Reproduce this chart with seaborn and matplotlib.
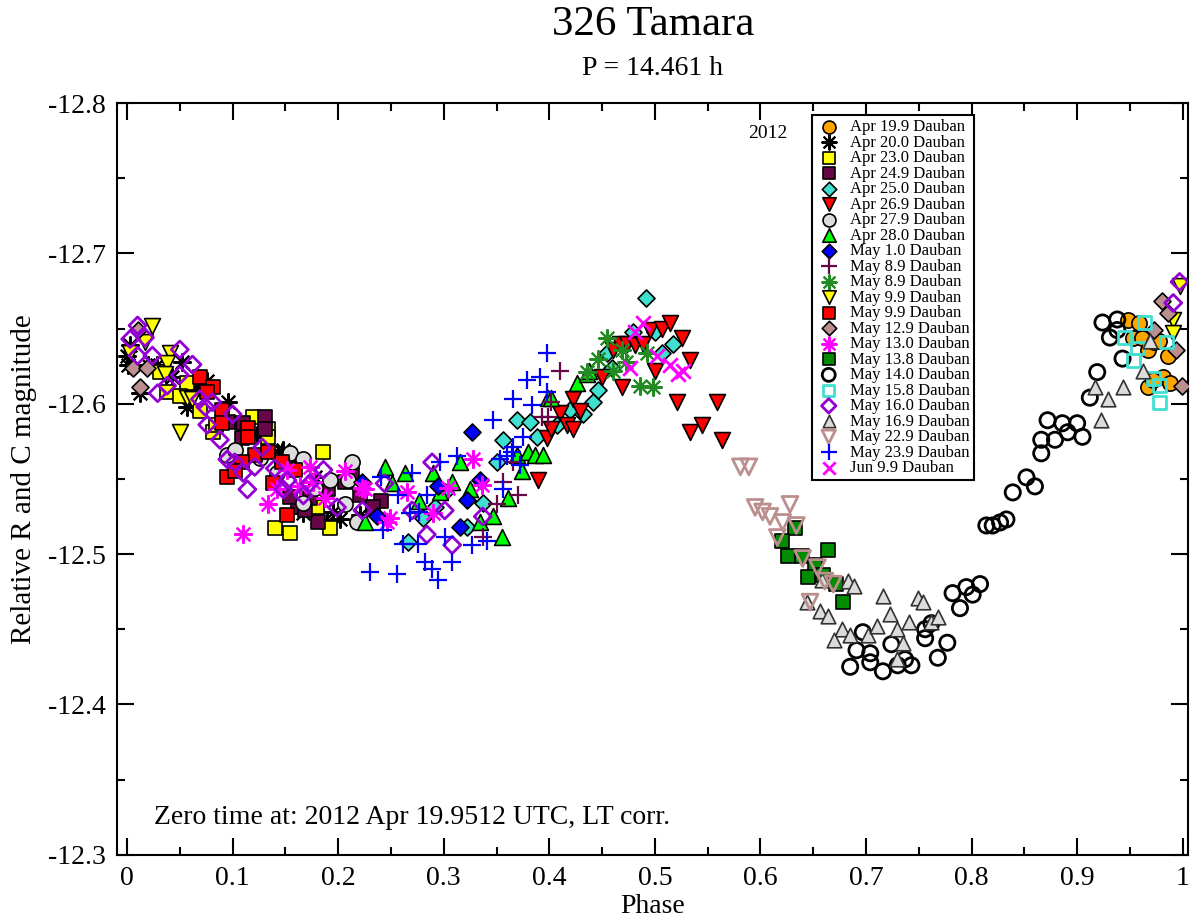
import matplotlib
matplotlib.use('Agg')
import matplotlib.pyplot as plt
from matplotlib.ticker import MultipleLocator, FuncFormatter
import seaborn as sns

# --- data (phase, relative magnitude) ---
apr199_phase = [0.948, 0.953, 0.961, 0.967, 0.973, 0.986, 0.981, 0.988, 0.967, 0.972, 0.959, 0.978]
apr199_mag = [-12.656, -12.644, -12.644, -12.636, -12.641, -12.632, -12.618, -12.614, -12.611, -12.616, -12.654, -12.642]

apr200_phase = [0.000, 0.001, 0.012, 0.028, 0.057, 0.052, 0.076, 0.096, 0.123, 0.148, 0.167, 0.189,
                0.003, 0.020, 0.043, 0.067, 0.156, 0.178, 0.202, 0.221, 0.195, 0.163, 0.147]
apr200_mag = [-12.632, -12.626, -12.607, -12.626, -12.598, -12.628, -12.615, -12.601, -12.579, -12.569, -12.527, -12.521,
              -12.639, -12.626, -12.618, -12.611, -12.561, -12.551, -12.523, -12.526, -12.528, -12.531, -12.568]

apr230_phase = [0.057, 0.069, 0.119, 0.134, 0.134, 0.081, 0.186, 0.140, 0.154, 0.192, 0.180, 0.038, 0.050, 0.031, 0.084]
apr230_mag = [-12.614, -12.595, -12.591, -12.583, -12.578, -12.581, -12.568, -12.517, -12.514, -12.517, -12.531, -12.608, -12.605, -12.621, -12.586]

apr249_phase = [0.131, 0.131, 0.110, 0.096, 0.109, 0.162, 0.181, 0.154, 0.173, 0.213, 0.221, 0.241, 0.169, 0.233, 0.190, 0.206]
apr249_mag = [-12.591, -12.583, -12.587, -12.588, -12.577, -12.531, -12.521, -12.538, -12.537, -12.553, -12.539, -12.535, -12.529, -12.531, -12.543, -12.548]

apr250_phase = [0.266, 0.280, 0.292, 0.301, 0.322, 0.337, 0.350, 0.356, 0.369, 0.382, 0.388, 0.407,
                0.420, 0.432, 0.441, 0.446, 0.455, 0.459, 0.479, 0.492, 0.500, 0.507, 0.517]
apr250_mag = [-12.508, -12.524, -12.531, -12.541, -12.518, -12.534, -12.561, -12.576, -12.589, -12.588, -12.578, -12.586,
              -12.596, -12.593, -12.601, -12.609, -12.634, -12.624, -12.648, -12.670, -12.648, -12.634, -12.640]

apr269_phase = [0.389, 0.398, 0.402, 0.410, 0.417, 0.422, 0.422, 0.429, 0.450, 0.469, 0.460, 0.467, 0.474,
                0.481, 0.489, 0.495, 0.507, 0.514, 0.526, 0.533, 0.500, 0.521, 0.533, 0.545, 0.559, 0.564]
apr269_mag = [-12.549, -12.577, -12.583, -12.594, -12.586, -12.583, -12.603, -12.595, -12.618, -12.611, -12.636, -12.640, -12.640,
              -12.639, -12.640, -12.649, -12.650, -12.654, -12.644, -12.629, -12.622, -12.601, -12.581, -12.586, -12.601, -12.576]

apr279_phase = [0.095, 0.102, 0.154, 0.167, 0.192, 0.142, 0.167, 0.213, 0.209, 0.206, 0.218, 0.147, 0.126, 0.178]
apr279_mag = [-12.566, -12.569, -12.567, -12.563, -12.549, -12.554, -12.534, -12.561, -12.549, -12.533, -12.521, -12.561, -12.564, -12.544]

apr280_phase = [0.225, 0.244, 0.263, 0.277, 0.290, 0.296, 0.315, 0.334, 0.347, 0.355, 0.361, 0.369, 0.380,
                0.386, 0.394, 0.374, 0.399, 0.402, 0.426, 0.436, 0.438, 0.251, 0.308, 0.325]
apr280_mag = [-12.521, -12.558, -12.554, -12.535, -12.554, -12.541, -12.561, -12.521, -12.525, -12.511, -12.537, -12.566, -12.568,
              -12.566, -12.566, -12.555, -12.604, -12.604, -12.614, -12.620, -12.622, -12.547, -12.548, -12.543]

may010_phase = [0.327, 0.315, 0.237, 0.223, 0.295, 0.322, 0.334]
may010_mag = [-12.581, -12.518, -12.525, -12.548, -12.545, -12.536, -12.549]

may089a_phase = [0.410, 0.393, 0.399, 0.402, 0.366, 0.356, 0.370, 0.350, 0.337]
may089a_mag = [-12.622, -12.591, -12.591, -12.601, -12.561, -12.548, -12.539, -12.533, -12.511]

may089b_phase = [0.455, 0.446, 0.436, 0.460, 0.469, 0.473, 0.493, 0.486, 0.498]
may089b_mag = [-12.644, -12.630, -12.621, -12.622, -12.636, -12.628, -12.634, -12.612, -12.611]

may099a_phase = [0.024, 0.003, 0.017, 0.041, 0.038, 0.036, 0.057, 0.050, 0.062, 0.991, 0.991, 0.997]
may099a_mag = [-12.652, -12.634, -12.641, -12.634, -12.627, -12.620, -12.604, -12.581, -12.603, -12.656, -12.647, -12.678]

may099b_phase = [0.069, 0.081, 0.076, 0.090, 0.090, 0.115, 0.115, 0.121, 0.134, 0.109, 0.095, 0.102, 0.147, 0.159, 0.138, 0.152]
may099b_mag = [-12.618, -12.611, -12.608, -12.596, -12.587, -12.584, -12.578, -12.566, -12.568, -12.561, -12.551, -12.555, -12.561, -12.556, -12.547, -12.526]

may129_phase = [0.006, 0.019, 0.012, 0.010, 0.980, 0.986, 0.973, 0.994, 0.999]
may129_mag = [-12.624, -12.624, -12.611, -12.649, -12.668, -12.660, -12.649, -12.636, -12.612]

may130_phase = [0.173, 0.206, 0.134, 0.142, 0.164, 0.188, 0.223, 0.246, 0.176, 0.225, 0.249, 0.265,
                0.290, 0.304, 0.328, 0.336, 0.110, 0.152]
may130_mag = [-12.558, -12.555, -12.533, -12.543, -12.545, -12.537, -12.544, -12.521, -12.548, -12.543, -12.524, -12.541,
              -12.527, -12.544, -12.563, -12.546, -12.513, -12.556]

may138_phase = [0.633, 0.620, 0.626, 0.639, 0.664, 0.652, 0.645, 0.659, 0.672, 0.678]
may138_mag = [-12.517, -12.509, -12.499, -12.499, -12.503, -12.493, -12.485, -12.486, -12.480, -12.468]

may140_phase = [0.685, 0.697, 0.691, 0.704, 0.704, 0.716, 0.724, 0.730, 0.737, 0.743, 0.756, 0.756, 0.762, 0.777,
                0.768, 0.782, 0.795, 0.808, 0.801, 0.789, 0.814, 0.820, 0.827, 0.833, 0.839, 0.852, 0.860, 0.866,
                0.866, 0.872, 0.879, 0.886, 0.891, 0.900, 0.905, 0.912, 0.919, 0.924, 0.938, 0.938, 0.931, 0.943]
may140_mag = [-12.425, -12.448, -12.436, -12.434, -12.428, -12.422, -12.440, -12.426, -12.430, -12.426, -12.450, -12.444, -12.454, -12.441,
              -12.431, -12.474, -12.478, -12.480, -12.473, -12.464, -12.519, -12.519, -12.521, -12.523, -12.541, -12.551, -12.545, -12.567,
              -12.576, -12.589, -12.576, -12.587, -12.581, -12.587, -12.578, -12.604, -12.621, -12.654, -12.656, -12.649, -12.644, -12.630]

may158_phase = [0.964, 0.945, 0.957, 0.953, 0.985, 0.972, 0.978, 0.978]
may158_mag = [-12.654, -12.644, -12.637, -12.629, -12.641, -12.617, -12.612, -12.601]

may160_phase = [0.010, 0.003, 0.017, 0.010, 0.024, 0.050, 0.062, 0.050, 0.038, 0.029, 0.069, 0.074, 0.081, 0.076,
                0.088, 0.100, 0.095, 0.102, 0.110, 0.114, 0.128, 0.121, 0.140, 0.152, 0.173, 0.186, 0.167, 0.148,
                0.199, 0.223, 0.244, 0.270, 0.289, 0.284, 0.301, 0.308, 0.337, 0.997, 0.991]
may160_mag = [-12.652, -12.643, -12.644, -12.632, -12.632, -12.636, -12.626, -12.619, -12.612, -12.607, -12.603, -12.598, -12.601, -12.586,
              -12.576, -12.593, -12.563, -12.561, -12.554, -12.543, -12.571, -12.558, -12.557, -12.549, -12.547, -12.556, -12.539, -12.543,
              -12.531, -12.529, -12.547, -12.529, -12.561, -12.513, -12.529, -12.506, -12.525, -12.681, -12.667]

may169_phase = [0.644, 0.658, 0.656, 0.664, 0.683, 0.689, 0.677, 0.670, 0.685, 0.702, 0.710, 0.716, 0.723,
                0.729, 0.735, 0.729, 0.741, 0.749, 0.754, 0.762, 0.768, 0.917, 0.923, 0.929, 0.943, 0.962, 0.969]
may169_mag = [-12.468, -12.483, -12.462, -12.459, -12.482, -12.479, -12.450, -12.443, -12.446, -12.446, -12.452, -12.472, -12.460,
              -12.450, -12.441, -12.430, -12.455, -12.471, -12.468, -12.455, -12.458, -12.611, -12.589, -12.603, -12.611, -12.622, -12.642]

may229_phase = [0.581, 0.589, 0.595, 0.602, 0.609, 0.628, 0.621, 0.634, 0.616, 0.640, 0.654, 0.661, 0.669, 0.647]
may229_mag = [-12.558, -12.558, -12.531, -12.528, -12.525, -12.533, -12.521, -12.519, -12.511, -12.497, -12.491, -12.482, -12.480, -12.468]

may239_phase = [0.398, 0.379, 0.391, 0.366, 0.384, 0.347, 0.398, 0.365, 0.375, 0.313, 0.296, 0.270, 0.241, 0.257,
                0.284, 0.268, 0.277, 0.242, 0.261, 0.276, 0.301, 0.327, 0.341, 0.256, 0.282, 0.289, 0.295, 0.308,
                0.356, 0.353, 0.360, 0.372, 0.366, 0.230]
may239_mag = [-12.634, -12.616, -12.618, -12.603, -12.599, -12.589, -12.608, -12.568, -12.578, -12.565, -12.561, -12.554, -12.551, -12.539,
              -12.539, -12.527, -12.528, -12.516, -12.507, -12.507, -12.511, -12.506, -12.509, -12.487, -12.495, -12.490, -12.483, -12.495,
              -12.543, -12.563, -12.565, -12.559, -12.571, -12.488]

jun099_phase = [0.489, 0.481, 0.502, 0.476, 0.514, 0.522, 0.527]
jun099_mag = [-12.654, -12.648, -12.632, -12.624, -12.626, -12.620, -12.622]

labels = ['Apr 19.9 Dauban', 'Apr 20.0 Dauban', 'Apr 23.0 Dauban', 'Apr 24.9 Dauban', 'Apr 25.0 Dauban',
          'Apr 26.9 Dauban', 'Apr 27.9 Dauban', 'Apr 28.0 Dauban', 'May 1.0 Dauban', 'May 8.9 Dauban',
          'May 8.9 Dauban', 'May 9.9 Dauban', 'May 9.9 Dauban', 'May 12.9 Dauban', 'May 13.0 Dauban',
          'May 13.8 Dauban', 'May 14.0 Dauban', 'May 15.8 Dauban', 'May 16.0 Dauban', 'May 16.9 Dauban',
          'May 22.9 Dauban', 'May 23.9 Dauban', 'Jun 9.9 Dauban']

phases = [apr199_phase, apr200_phase, apr230_phase, apr249_phase, apr250_phase, apr269_phase, apr279_phase,
          apr280_phase, may010_phase, may089a_phase, may089b_phase, may099a_phase, may099b_phase, may129_phase,
          may130_phase, may138_phase, may140_phase, may158_phase, may160_phase, may169_phase, may229_phase,
          may239_phase, jun099_phase]
mags = [apr199_mag, apr200_mag, apr230_mag, apr249_mag, apr250_mag, apr269_mag, apr279_mag,
        apr280_mag, may010_mag, may089a_mag, may089b_mag, may099a_mag, may099b_mag, may129_mag,
        may130_mag, may138_mag, may140_mag, may158_mag, may160_mag, may169_mag, may229_mag,
        may239_mag, jun099_mag]

# styles: (marker, size, face, edge, linewidth)
ast = (8, 2, 0)
styles = [
    ('o', 120, '#ffa500', 'black', 1.2),
    (ast, 150, 'black', None, 1.5),
    ('s', 95, '#ffff00', 'black', 1.2),
    ('s', 95, '#670748', 'black', 1.2),
    ('D', 75, '#40e0d0', 'black', 1.2),
    ('v', 130, '#ff0000', 'black', 1.2),
    ('o', 120, '#dcdcdc', 'black', 1.2),
    ('^', 130, '#00ff00', 'black', 1.2),
    ('D', 75, '#0000ff', 'black', 1.2),
    ('+', 170, '#670748', None, 1.6),
    (ast, 150, '#228b22', None, 1.5),
    ('v', 130, '#ffff00', 'black', 1.2),
    ('s', 95, '#ff0000', 'black', 1.2),
    ('D', 75, '#bc8f8f', 'black', 1.2),
    (ast, 150, '#ff00ff', None, 1.6),
    ('s', 95, '#008b00', 'black', 1.2),
    ('o', 120, 'none', 'black', 2.0),
    ('s', 85, 'none', '#40e0d0', 2.0),
    ('D', 75, 'none', '#9400d3', 2.0),
    ('^', 110, '#dcdcdc', '#333333', 1.2),
    ('v', 130, 'none', '#bc8f8f', 2.0),
    ('+', 170, '#0000ff', None, 1.6),
    ('x', 110, '#ff00ff', None, 2.0),
]

sns.set_style('ticks')
plt.rcParams['font.family'] = ['Liberation Serif', 'DejaVu Serif']
plt.rcParams['text.color'] = 'black'
plt.rcParams['axes.labelcolor'] = 'black'
plt.rcParams['xtick.color'] = 'black'
plt.rcParams['ytick.color'] = 'black'

fig, ax = plt.subplots(figsize=(12, 9.24), dpi=100)
fig.subplots_adjust(left=0.0975, right=0.99, top=0.8885, bottom=0.075)

for i, (ph, mg, lab, st) in enumerate(zip(phases, mags, labels, styles)):
    marker, size, face, edge, lw = st
    if edge is None:
        sns.scatterplot(x=ph, y=mg, ax=ax, marker=marker, s=size, color=face,
                        linewidth=lw, label=lab, zorder=3 + i)
    elif face == 'none':
        sns.scatterplot(x=ph, y=mg, ax=ax, marker=marker, s=size, color=edge,
                        facecolor='none', edgecolor=edge, linewidth=lw, label=lab, zorder=3 + i)
    else:
        sns.scatterplot(x=ph, y=mg, ax=ax, marker=marker, s=size, color=face,
                        edgecolor=edge, linewidth=lw, label=lab, zorder=3 + i)

ax.set_xlim(-0.0095, 1.005)
ax.set_ylim(-12.3, -12.8)
ax.xaxis.set_major_locator(MultipleLocator(0.1))
ax.xaxis.set_minor_locator(MultipleLocator(0.05))
ax.yaxis.set_major_locator(MultipleLocator(0.1))
ax.yaxis.set_minor_locator(MultipleLocator(0.05))
ax.xaxis.set_major_formatter(FuncFormatter(lambda v, p: '%g' % round(v, 3)))
ax.yaxis.set_major_formatter(FuncFormatter(lambda v, p: '%.1f' % v))
ax.tick_params(which='both', direction='in', top=True, right=True, width=1.5, labelsize=20,
               color='black', labelcolor='black')
ax.tick_params(which='major', length=12, pad=8)
ax.tick_params(which='minor', length=6)
for sp in ax.spines.values():
    sp.set_linewidth(1.5)
    sp.set_color('black')

ax.set_xlabel('Phase', fontsize=20, labelpad=2, color='black')
ax.set_ylabel('Relative R and C magnitude', fontsize=21, labelpad=8, color='black')

fig.text(0.544, 0.973, '326 Tamara', ha='center', va='center', fontsize=31, color='black')
fig.text(0.544, 0.926, 'P = 14.461 h', ha='center', va='center', fontsize=20, color='black')
ax.text(0.608, 0.96, '2012', transform=ax.transAxes, ha='center', va='center', fontsize=14, color='black')
ax.text(0.035, 0.049, 'Zero time at: 2012 Apr 19.9512 UTC, LT corr.', transform=ax.transAxes,
        ha='left', va='center', fontsize=20, color='black')

leg = ax.legend(loc='upper left', bbox_to_anchor=(0.649, 0.984), fontsize=12, labelspacing=-0.03,
                handletextpad=0.5, handlelength=1.5, borderpad=0.25, markerscale=0.85,
                frameon=True, fancybox=False, framealpha=1, edgecolor='black', borderaxespad=0)
leg.get_frame().set_linewidth(1.5)
for t in leg.get_texts():
    t.set_color('black')
leg.set_zorder(50)

fig.savefig('out.png', dpi=100)
